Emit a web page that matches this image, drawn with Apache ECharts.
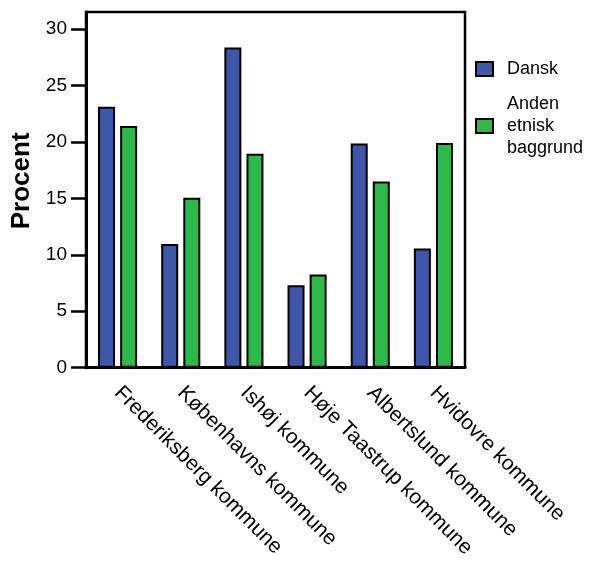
<!DOCTYPE html>
<html>
<head>
<meta charset="utf-8">
<script src="https://cdn.jsdelivr.net/npm/echarts@6/dist/echarts.min.js"></script>
<style>html,body{margin:0;padding:0;background:#fff}#c{width:596px;height:561px}</style>
</head>
<body>
<div id="c"></div>
<script>
const categories = ['Frederiksberg kommune','Københavns kommune','Ishøj kommune','Høje Taastrup kommune','Albertslund kommune','Hvidovre kommune'];
const dansk = [23.1, 10.95, 28.35, 7.3, 19.85, 10.55];
const anden = [21.4, 15.05, 18.95, 8.25, 16.5, 19.9];
const yTicks = [0, 5, 10, 15, 20, 25, 30];
const seriesNames = ['Dansk', 'Anden\netnisk\nbaggrund'];

const font = '"Liberation Sans", Arial, sans-serif';
const chart = echarts.init(document.getElementById('c'));
chart.setOption({
  animation: false,
  textStyle: {fontFamily: font, color: '#000'},
  grid: {left: 86, top: 12, right: 131, bottom: 192, show: true, borderColor: '#000', borderWidth: 2.5},
  legend: {
    orient: 'vertical', left: 470, top: 53, itemGap: 13,
    itemWidth: 17, itemHeight: 14,
    textStyle: {fontFamily: font, fontSize: 18, color: '#000', lineHeight: 22, padding: [0, 0, 0, 9]},
    data: seriesNames.map(n => ({name: n, icon: 'rect'}))
  },
  xAxis: {
    type: 'category', data: categories,
    axisLine: {lineStyle: {color: '#000', width: 3}},
    axisTick: {alignWithLabel: true, length: 15, lineStyle: {color: '#000', width: 2.5}},
    axisLabel: {rotate: -45, margin: 22, fontSize: 21, color: '#000', fontFamily: font, interval: 0}
  },
  yAxis: {
    type: 'value', min: 0, max: 31.5, interval: 5,
    name: 'Procent', nameLocation: 'middle', nameGap: 40,
    nameTextStyle: {fontSize: 26, fontWeight: 'bold', color: '#000', fontFamily: font, padding: [0, 0, 0, 18]},
    axisLine: {show: true, lineStyle: {color: '#000', width: 3}},
    axisTick: {show: true, length: 15, customValues: yTicks, lineStyle: {color: '#000', width: 2.5}},
    axisLabel: {customValues: yTicks, fontSize: 19, color: '#000', fontFamily: font, margin: 19},
    splitLine: {show: false}
  },
  series: [
    {name: seriesNames[0], type: 'bar', data: dansk, barWidth: 17, barGap: '30%',
     itemStyle: {color: '#3f57a9', borderColor: '#000', borderWidth: 2}},
    {name: seriesNames[1], type: 'bar', data: anden, barWidth: 17,
     itemStyle: {color: '#2eb84b', borderColor: '#000', borderWidth: 2}}
  ]
});
</script>
</body>
</html>
